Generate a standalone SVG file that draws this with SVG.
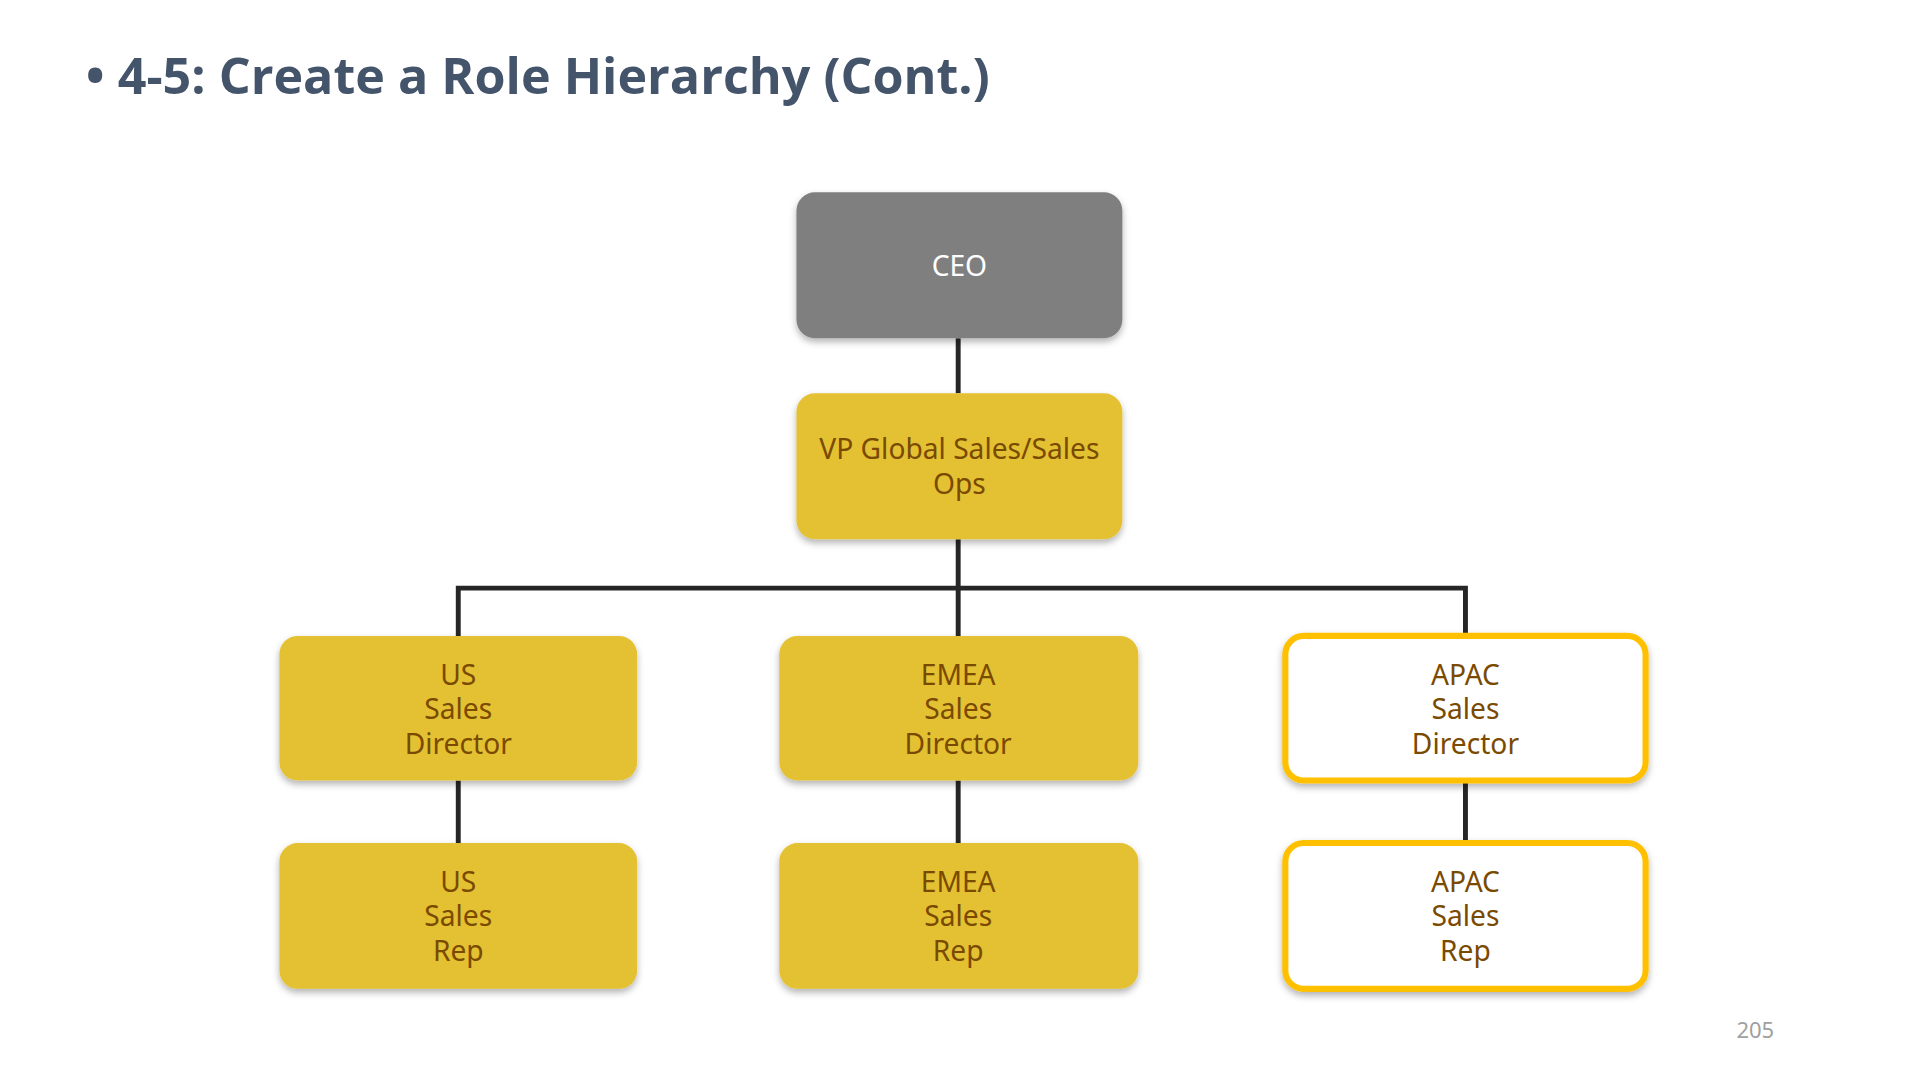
<svg xmlns="http://www.w3.org/2000/svg" width="1920" height="1080" viewBox="0 0 1920 1080">
<defs>
<filter id="sh" x="-10%" y="-10%" width="120%" height="130%"><feDropShadow dx="0" dy="3" stdDeviation="3" flood-color="#000" flood-opacity="0.3"/></filter>
<style>
.n{filter:url(#sh)}
.y{fill:#E4C130}
.w{fill:#fff;stroke:#FFC000;stroke-width:5}
.t{font-family:"Noto Sans","Open Sans",sans-serif;font-size:23px;fill:#7A4A00;text-anchor:middle}
.c{stroke:#262626;stroke-width:4;fill:none}
</style>
</defs>
<rect width="1920" height="1080" fill="#fff"/>
<g transform="scale(1.2253)">
<text x="70" y="77" font-family="Open Sans,Noto Sans,sans-serif" font-weight="bold" font-size="41" fill="#44546A">• 4-5: Create a Role Hierarchy (Cont.)</text>
<g id="connectors">
<path class="c" d="M782 276V321M782 440V480M374 519V480H1196V519M782 480V519M374 637V688M782 637V688M1196 637V688"/>
</g>
<g id="ceo"><rect class="n" x="650" y="157" width="266" height="119" rx="15" fill="#7F7F7F"/><text class="t" x="783" y="225" style="fill:#fff">CEO</text></g>
<g id="vp"><rect class="n y" x="650" y="321" width="266" height="119" rx="15"/><text class="t" x="783" y="375">VP Global Sales/Sales</text><text class="t" x="783" y="403">Ops</text></g>
<g id="usd"><rect class="n y" x="228" y="519" width="292" height="118" rx="15"/><text class="t" x="374" y="559">US</text><text class="t" x="374" y="587">Sales</text><text class="t" x="374" y="615">Director</text></g>
<g id="emead"><rect class="n y" x="636" y="519" width="293" height="118" rx="15"/><text class="t" x="782" y="559">EMEA</text><text class="t" x="782" y="587">Sales</text><text class="t" x="782" y="615">Director</text></g>
<g id="apacd"><rect class="n w" x="1049" y="519" width="294" height="118" rx="15"/><text class="t" x="1196" y="559">APAC</text><text class="t" x="1196" y="587">Sales</text><text class="t" x="1196" y="615">Director</text></g>
<g id="usr"><rect class="n y" x="228" y="688" width="292" height="119" rx="15"/><text class="t" x="374" y="728">US</text><text class="t" x="374" y="756">Sales</text><text class="t" x="374" y="784">Rep</text></g>
<g id="emear"><rect class="n y" x="636" y="688" width="293" height="119" rx="15"/><text class="t" x="782" y="728">EMEA</text><text class="t" x="782" y="756">Sales</text><text class="t" x="782" y="784">Rep</text></g>
<g id="apacr"><rect class="n w" x="1049" y="688" width="294" height="119" rx="15"/><text class="t" x="1196" y="728">APAC</text><text class="t" x="1196" y="756">Sales</text><text class="t" x="1196" y="784">Rep</text></g>
<text x="1448" y="847" font-family="Noto Sans,sans-serif" font-size="18" fill="#A0A0A0" text-anchor="end">205</text>
</g>
</svg>
